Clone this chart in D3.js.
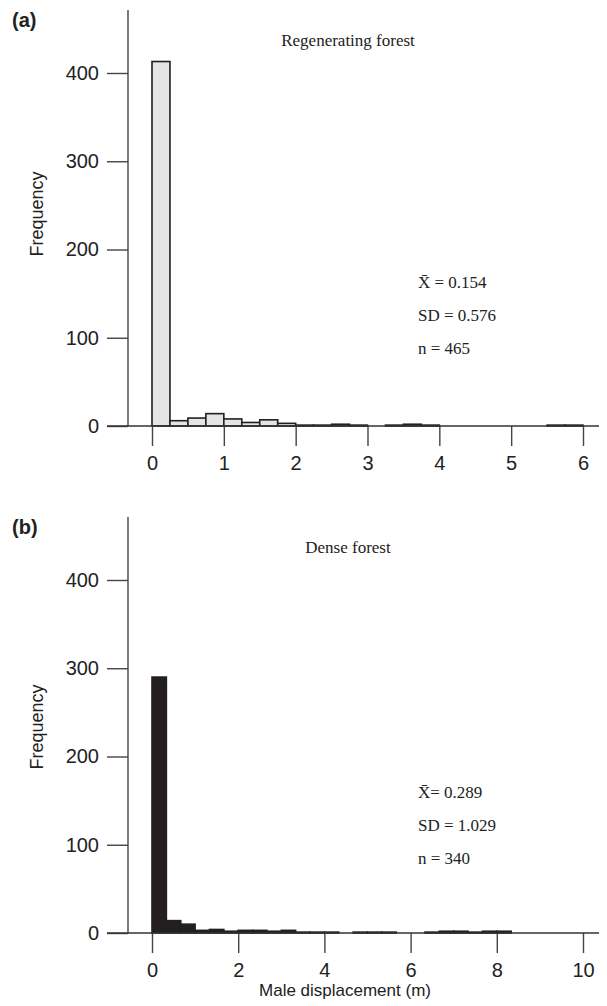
<!DOCTYPE html>
<html lang="en">
<head>
<meta charset="utf-8">
<script src="https://d3js.org/d3.v7.min.js"></script>
<style>
  body { margin: 0; background: #fff; }
  .axis text { font: 20px "Liberation Sans", Arial, sans-serif; fill: #222; }
  .axis line, .axis path { stroke: #444; stroke-width: 1.4px; }
  .serif { font-family: "Liberation Serif", "Times New Roman", serif; fill: #222; }
  .sans { font-family: "Liberation Sans", Arial, sans-serif; fill: #222; }
</style>
</head>
<body>
<svg id="chart" width="607" height="1006"></svg>
<script>
// panel (a): regenerating forest, bins of 0.25 m
var binA = 0.25;
var countsA = [413, 6, 9, 14, 8, 4, 7, 3, 1, 1, 2, 1, 0, 1, 2, 1, 0, 0, 0, 0, 0, 0, 1, 1];
var statsA = ["X\u0304 = 0.154", "SD = 0.576", "n = 465"];

// panel (b): dense forest, bins of 1/3 m
var binB = 1 / 3;
var countsB = [290, 14, 10, 3, 4, 2, 3, 3, 2, 3, 1, 1, 1, 0, 1, 1, 1, 0, 0, 1, 2, 2, 1, 2, 2];
var statsB = ["X\u0304= 0.289", "SD = 1.029", "n = 340"];

var yTicks = [0, 100, 200, 300, 400];
var xTicksA = [0, 1, 2, 3, 4, 5, 6];
var xTicksB = [0, 2, 4, 6, 8, 10];

var svg = d3.select("#chart");

function drawPanel(opt) {
  var g = svg.append("g");
  var x = d3.scaleLinear().domain([0, opt.xmax]).range([152, 583]);
  var y = d3.scaleLinear().domain([0, 400]).range([opt.base, opt.base - 353]);

  // bars
  g.selectAll("rect.bar")
    .data(opt.counts)
    .enter().append("rect")
    .attr("class", "bar")
    .attr("x", function(d, i) { return x(i * opt.bin); })
    .attr("width", function(d, i) { return x((i + 1) * opt.bin) - x(i * opt.bin); })
    .attr("y", function(d) { return y(d); })
    .attr("height", function(d) { return y(0) - y(d); })
    .attr("fill", opt.fill)
    .attr("stroke", "#231f20")
    .attr("stroke-width", 1.6);

  // y axis
  var ya = g.append("g")
    .attr("class", "axis")
    .attr("transform", "translate(128,0)")
    .call(d3.axisLeft(y).tickValues(yTicks).tickSize(21).tickPadding(8));
  ya.select(".domain").remove();
  g.append("line")
    .attr("x1", 128).attr("x2", 128)
    .attr("y1", opt.base).attr("y2", opt.base - 416)
    .attr("stroke", "#444").attr("stroke-width", 1.4);

  // x axis
  var xa = g.append("g")
    .attr("class", "axis")
    .attr("transform", "translate(0," + opt.base + ")")
    .call(d3.axisBottom(x).tickValues(opt.xticks).tickFormat(d3.format("d")).tickSize(20).tickPadding(10));
  xa.select(".domain").remove();
  g.append("line")
    .attr("x1", 107).attr("x2", 599)
    .attr("y1", opt.base).attr("y2", opt.base)
    .attr("stroke", "#333").attr("stroke-width", 1.6);

  g.append("text")
    .attr("class", "sans")
    .attr("transform", "translate(43," + (opt.base - opt.labOff) + ") rotate(-90)")
    .attr("text-anchor", "middle")
    .style("font-size", "18px")
    .text("Frequency");

  g.append("text")
    .attr("class", "sans")
    .attr("x", 12).attr("y", opt.base - 399)
    .style("font-size", "20px").style("font-weight", "bold")
    .text(opt.letter);

  g.append("text")
    .attr("class", "serif")
    .attr("x", 348).attr("y", opt.base - 380)
    .attr("text-anchor", "middle")
    .style("font-size", "17px")
    .text(opt.title);

  g.selectAll("text.stat")
    .data(opt.stats)
    .enter().append("text")
    .attr("class", "serif stat")
    .attr("x", 418)
    .attr("y", function(d, i) { return opt.base - opt.statOff + i * 33; })
    .style("font-size", "17px")
    .text(function(d) { return d; });
}

drawPanel({ base: 426, xmax: 6, bin: binA, counts: countsA, fill: "#e4e5e7", statOff: 138, labOff: 212,
  xticks: xTicksA, letter: "(a)", title: "Regenerating forest", stats: statsA });
drawPanel({ base: 933, xmax: 10, bin: binB, counts: countsB, fill: "#231f20", statOff: 135, labOff: 206,
  xticks: xTicksB, letter: "(b)", title: "Dense forest", stats: statsB });

svg.append("text")
  .attr("class", "sans")
  .attr("x", 345).attr("y", 996)
  .attr("text-anchor", "middle")
  .style("font-size", "17px")
  .text("Male displacement (m)");
</script>
</body>
</html>
